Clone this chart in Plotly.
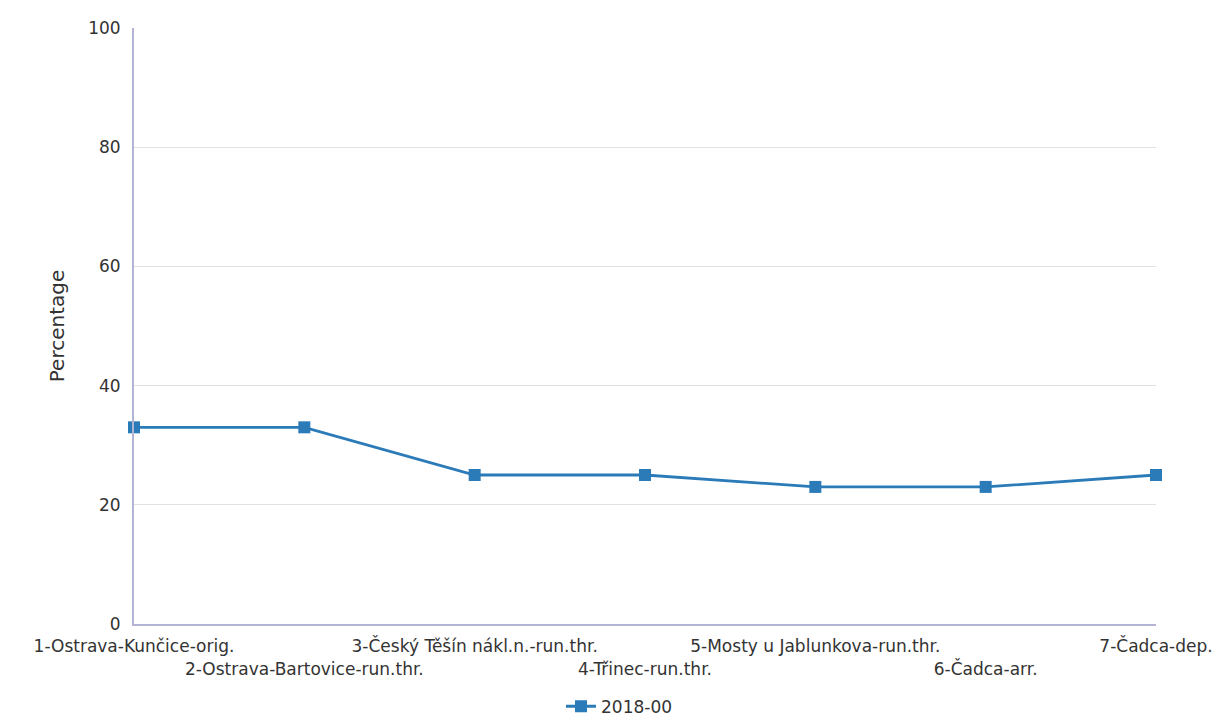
import plotly.graph_objects as go

categories = [
    "1-Ostrava-Kunčice-orig.",
    "2-Ostrava-Bartovice-run.thr.",
    "3-Český Těšín nákl.n.-run.thr.",
    "4-Třinec-run.thr.",
    "5-Mosty u Jablunkova-run.thr.",
    "6-Čadca-arr.",
    "7-Čadca-dep.",
]
values_2018 = [33, 33, 25, 25, 23, 23, 25]
series_name = "2018-00"
y_ticks = [0, 20, 40, 60, 80, 100]

x_idx = list(range(len(categories)))
tick_text = [c if i % 2 == 0 else "<br>" + c for i, c in enumerate(categories)]

color = "#2b7bb9"
fig = go.Figure()
fig.add_trace(go.Scatter(
    x=x_idx, y=values_2018, mode="lines+markers", name=series_name,
    line=dict(color=color, width=2.8),
    marker=dict(symbol="square", size=12, color=color),
    cliponaxis=False,
))

font = dict(family="DejaVu Sans", size=17, color="#333333")
fig.update_layout(
    width=1223, height=715,
    margin=dict(l=126, r=75, t=20, b=99),
    paper_bgcolor="white", plot_bgcolor="white",
    font=font,
    showlegend=True,
    legend=dict(orientation="h", x=0.5, xanchor="center", xref="container",
                y=0.048, yanchor="top", yref="container",
                font=dict(family="DejaVu Sans", size=17, color="#333333")),
    xaxis=dict(
        range=[0, 6], tickvals=x_idx, ticktext=tick_text, tickangle=0,
        showgrid=False, showline=True, linecolor="#b4b4d6", linewidth=2,
        ticks="", zeroline=False, tickfont=font, automargin=False,
        ticklabelstandoff=6,
    ),
    yaxis=dict(
        range=[0, 100], tickvals=y_ticks, showgrid=True, gridcolor="#e2e2e2",
        showline=True, linecolor="#b4b4d6", linewidth=2, zeroline=False,
        title=dict(text="Percentage", font=dict(family="DejaVu Sans", size=20, color="#333333"), standoff=18),
        tickfont=font, ticks="", automargin=False, ticklabelstandoff=8,
    ),
)
fig.write_html("out.html")
